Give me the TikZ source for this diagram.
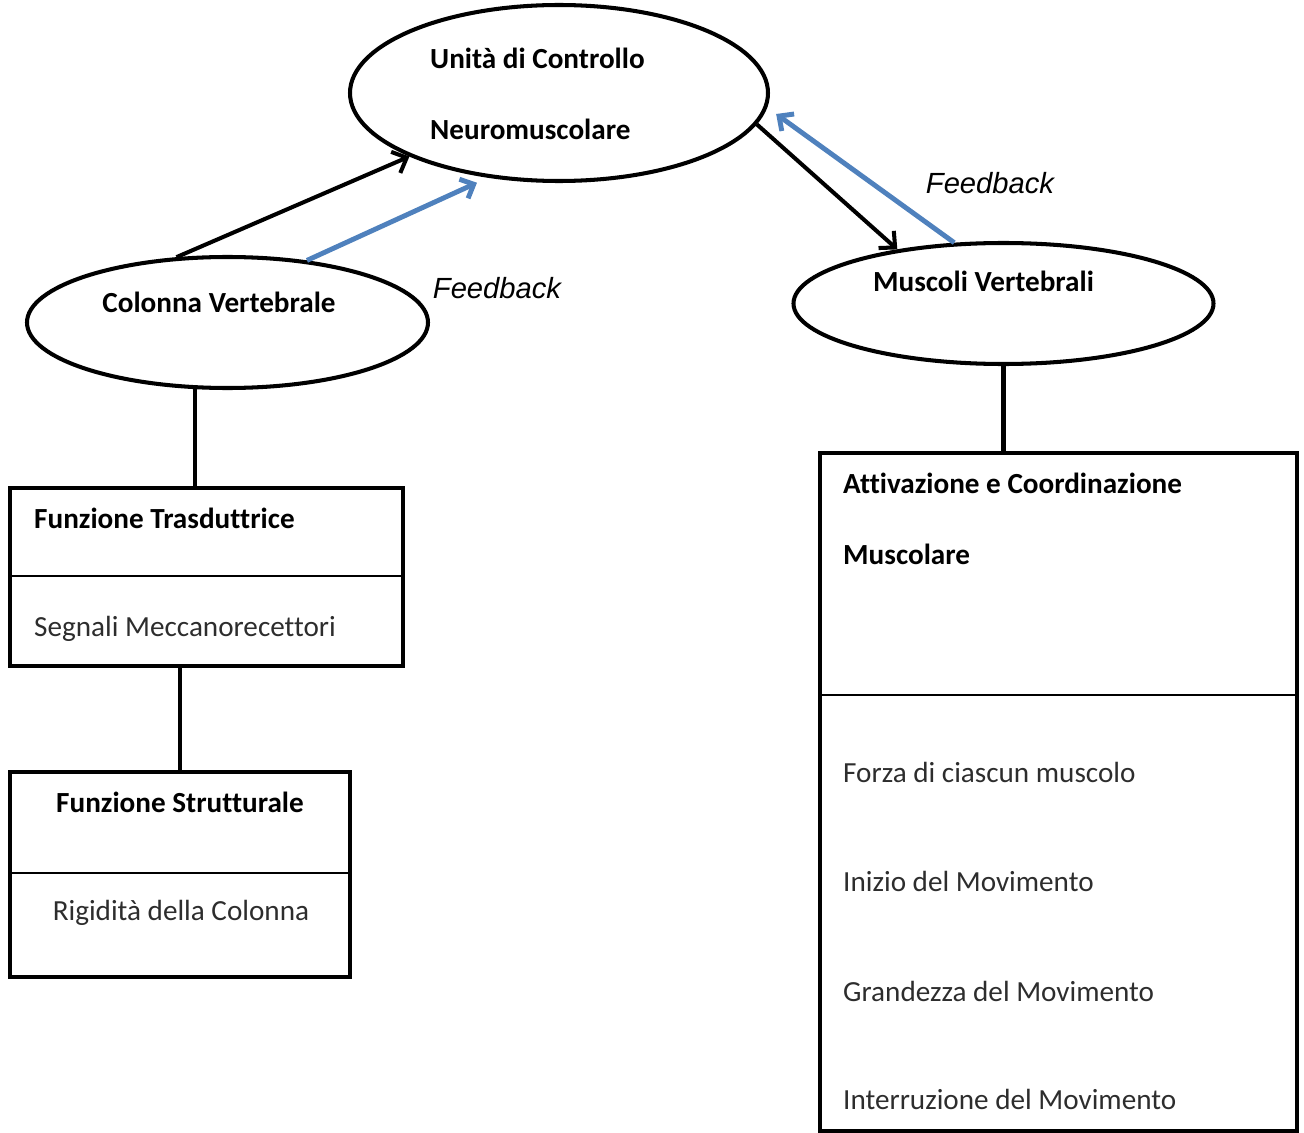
\documentclass[tikz,border=0pt]{standalone}
\usepackage{fontspec}
\setmainfont{Carlito}[Ligatures=NoCommon]
\newfontfamily\fbfont{Liberation Sans}
\usetikzlibrary{shapes,arrows.meta,positioning,calc}

\definecolor{fbblue}{RGB}{79,129,189}
\definecolor{txtgray}{RGB}{45,45,45}

\begin{document}
\begin{tikzpicture}[
        font=\fontsize{16.6}{20}\selectfont,
        oval/.style={draw, ellipse, line width=2.3pt, inner sep=0pt},
        card/.style={draw, rectangle, line width=2.8pt, anchor=north west, inner sep=0pt, outer sep=0pt},
        flow/.style={line width=2.3pt, -{Straight Barb[length=0.24cm, width=0.46cm]}},
        feedback/.style={fbblue, line width=2.8pt, -{Straight Barb[length=0.22cm, width=0.42cm]}},
        link/.style={line width=2.6pt},
        divider/.style={line width=0.8pt},
        title/.style={font=\fontsize{16.6}{20}\selectfont\bfseries},
        item/.style={text=txtgray}
    ]
        \useasboundingbox (0,0) rectangle (26.08,-22.66);

        % Unita' di Controllo
        \node[oval, minimum width=8.36cm, minimum height=3.52cm] (uc) at (11.18,-1.86) {};
        \node[title, anchor=base west] (uc1) at (8.48,-1.38) {Unità di Controllo};
        \node[title, anchor=base west] (uc2) at (8.48,-2.8) {Neuromuscolare};

        % Colonna / Muscoli
        \node[oval, minimum width=8.02cm, minimum height=2.62cm] (cv) at (4.55,-6.45) {};
        \node[title, anchor=base] (cvt) at (4.38,-6.24) {Colonna Vertebrale};
        \node[oval, minimum width=8.4cm, minimum height=2.42cm] (mv) at (20.07,-6.07) {};
        \node[title, anchor=base] (mvt) at (19.67,-5.82) {Muscoli Vertebrali};

        % frecce
        \draw[flow] (cv.128) -- (uc.203);
        \draw[feedback, shorten >=0.24cm] (cv.38) -- (uc.230);
        \draw[flow] (uc.351) -- (mv.153);
        \draw[feedback, shorten >=0.22cm] (mv.129) -- (uc.356);
        \node[font=\fontsize{16.6}{20}\selectfont\fbfont\itshape] (fb1) at (9.94,-5.76) {Feedback};
        \node[font=\fontsize{16.6}{20}\selectfont\fbfont\itshape] (fb2) at (19.8,-3.66) {Feedback};

        % Funzione Trasduttrice
        \node[card, minimum width=7.86cm, minimum height=3.56cm] (ft) at (0.2,-9.76) {};
        \draw[divider] ($(ft.north west)!.494!(ft.south west)$) -- ($(ft.north east)!.494!(ft.south east)$);
        \node[title, anchor=base west] (ft1) at (0.56,-10.56) {Funzione Trasduttrice};
        \node[item, anchor=base west] (ft2) at (0.56,-12.72) {Segnali Meccanorecettori};

        % Funzione Strutturale
        \node[card, minimum width=6.8cm, minimum height=4.1cm] (sf) at (0.2,-15.44) {};
        \draw[divider] ($(sf.north west)!.493!(sf.south west)$) -- ($(sf.north east)!.493!(sf.south east)$);
        \node[title, anchor=base] (sf1) at (3.6,-16.24) {Funzione Strutturale};
        \node[item, anchor=base] (sf2) at (3.62,-18.4) {Rigidità della Colonna};

        % Attivazione e Coordinazione
        \node[card, minimum width=9.54cm, minimum height=13.56cm] (am) at (16.4,-9.06) {};
        \draw[divider] ($(am.north west)!.357!(am.south west)$) -- ($(am.north east)!.357!(am.south east)$);
        \node[title, anchor=base west] (am1) at (16.74,-9.86) {Attivazione e Coordinazione};
        \node[title, anchor=base west] (am2) at (16.74,-11.28) {Muscolare};
        \node[item, anchor=base west] (am3) at (16.74,-15.64) {Forza di ciascun muscolo};
        \node[item, anchor=base west] (am4) at (16.74,-17.82) {Inizio del Movimento};
        \node[item, anchor=base west] (am5) at (16.74,-20.02) {Grandezza del Movimento};
        \node[item, anchor=base west] (am6) at (16.74,-22.18) {Interruzione del Movimento};

        % collegamenti
        \draw[link] (cv.244) -- (cv.244 |- ft.north);
        \draw[link] (sf.north) -- (sf.north |- ft.south);
        \draw[link] (mv.south) -- (mv.south |- am.north);
    \end{tikzpicture}
\end{document}
